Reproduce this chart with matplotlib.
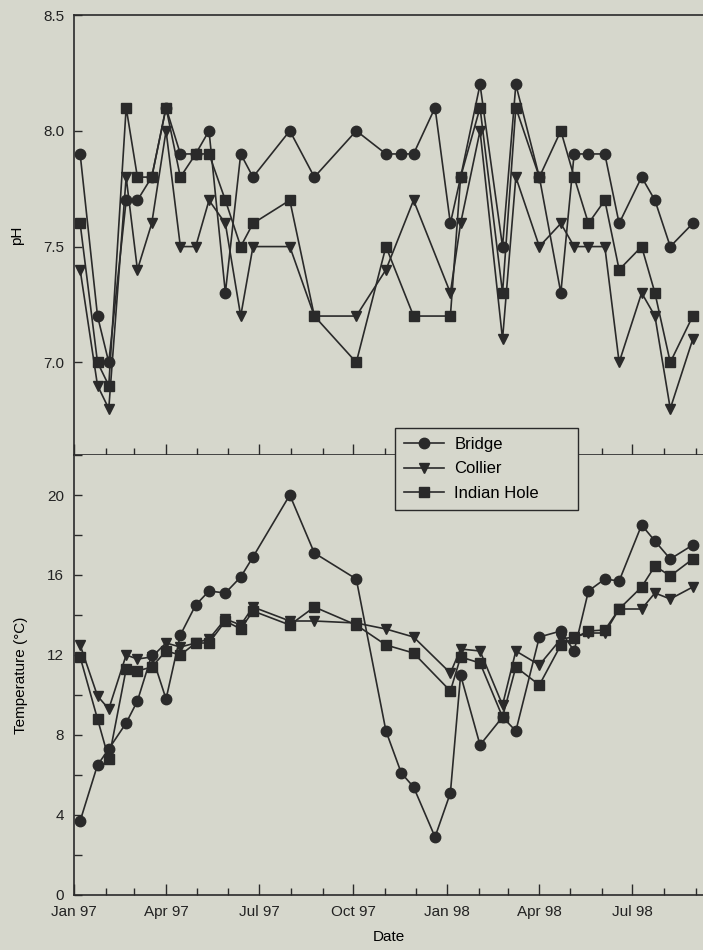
import numpy as np
import pandas as pd
import matplotlib
matplotlib.use("Agg")
import matplotlib.pyplot as plt
import matplotlib.dates as mdates

# sampling dates
dates = pd.to_datetime([
    "1997-01-07", "1997-01-24", "1997-02-04", "1997-02-21", "1997-03-04",
    "1997-03-18", "1997-04-01", "1997-04-15", "1997-04-30", "1997-05-13",
    "1997-05-29", "1997-06-13", "1997-06-25", "1997-07-31", "1997-08-24",
    "1997-10-04", "1997-11-02", "1997-11-17", "1997-11-29", "1997-12-20",
    "1998-01-04", "1998-01-14", "1998-02-02", "1998-02-24", "1998-03-09",
    "1998-04-01", "1998-04-22", "1998-05-05", "1998-05-19", "1998-06-04",
    "1998-06-18", "1998-07-10", "1998-07-23", "1998-08-07", "1998-08-29",
])

nan = np.nan
ph_bridge = [7.9, 7.2, 7.0, 7.7, 7.7, 7.8, 8.1, 7.9, 7.9, 8.0, 7.3, 7.9, 7.8, 8.0, 7.8,
             8.0, 7.9, 7.9, 7.9, 8.1, 7.6, 7.8, 8.2, 7.5, 8.2, 7.8, 7.3, 7.9, 7.9, 7.9,
             7.6, 7.8, 7.7, 7.5, 7.6]
ph_collier = [7.4, 6.9, 6.8, 7.8, 7.4, 7.6, 8.0, 7.5, 7.5, 7.7, 7.6, 7.2, 7.5, 7.5, 7.2,
              7.2, 7.4, nan, 7.7, nan, 7.3, 7.6, 8.0, 7.1, 7.8, 7.5, 7.6, 7.5, 7.5, 7.5,
              7.0, 7.3, 7.2, 6.8, 7.1]
ph_indian = [7.6, 7.0, 6.9, 8.1, 7.8, 7.8, 8.1, 7.8, 7.9, 7.9, 7.7, 7.5, 7.6, 7.7, 7.2,
             7.0, 7.5, nan, 7.2, nan, 7.2, 7.8, 8.1, 7.3, 8.1, 7.8, 8.0, 7.8, 7.6, 7.7,
             7.4, 7.5, 7.3, 7.0, 7.2]

temp_bridge = [3.7, 6.5, 7.3, 8.6, 9.7, 12.0, 9.8, 13.0, 14.5, 15.2, 15.1, 15.9, 16.9, 20.0, 17.1,
               15.8, 8.2, 6.1, 5.4, 2.9, 5.1, 11.0, 7.5, 8.9, 8.2, 12.9, 13.2, 12.2, 15.2, 15.8,
               15.7, 18.5, 17.7, 16.8, 17.5]
temp_collier = [12.5, 9.95, 9.3, 12.0, 11.8, 11.9, 12.6, 12.4, 12.6, 12.8, 13.8, 13.5, 14.4, 13.7, 13.7,
                13.6, 13.3, nan, 12.9, nan, 11.1, 12.3, 12.2, 9.5, 12.2, 11.5, 12.8, 12.9, 13.1, 13.1,
                14.3, 14.3, 15.1, 14.8, 15.4]
temp_indian = [11.9, 8.8, 6.8, 11.3, 11.2, 11.4, 12.2, 12.0, 12.6, 12.6, 13.7, 13.3, 14.2, 13.5, 14.4,
               13.5, 12.5, nan, 12.1, nan, 10.2, 11.9, 11.6, 8.9, 11.4, 10.5, 12.5, 12.85, 13.2, 13.25,
               14.3, 15.4, 16.45, 15.95, 16.8]

sites = ["Bridge", "Collier", "Indian Hole"]
markers = ["o", "v", "s"]

bg = "#d6d7cc"
ink = "#2a2a2a"

plt.rcParams["font.family"] = ["Liberation Sans", "DejaVu Sans"]
plt.rcParams["font.size"] = 11

fig = plt.figure(figsize=(7.03, 9.5), dpi=100, facecolor=bg)
ax1 = fig.add_axes([74 / 703, 1 - 455 / 950, 1 - 74 / 703, 440 / 950], facecolor=bg)
ax2 = fig.add_axes([74 / 703, 1 - 895 / 950, 1 - 74 / 703, 440 / 950], facecolor=bg)


def draw(ax, series):
    handles = []
    for name, vals, mk in zip(sites, series, markers):
        v = np.array(vals, dtype=float)
        ok = ~np.isnan(v)
        h, = ax.plot(dates[ok], v[ok], marker=mk, color=ink, lw=1.2, ms=7.5,
                     mec=ink, mfc=ink, label=name)
        handles.append(h)
    return handles


handles = draw(ax1, [ph_bridge, ph_collier, ph_indian])
draw(ax2, [temp_bridge, temp_collier, temp_indian])

xmin = pd.Timestamp("1997-01-01")
xmax = pd.Timestamp("1998-09-08")
for ax in (ax1, ax2):
    ax.set_xlim(xmin, xmax)
    ax.xaxis.set_major_locator(mdates.MonthLocator(bymonth=[1, 4, 7, 10]))
    ax.xaxis.set_minor_locator(mdates.MonthLocator())
    ax.xaxis.set_major_formatter(mdates.DateFormatter("%b %y"))
    ax.tick_params(which="major", direction="in", length=8, width=1, color=ink,
                   labelcolor="#222222", labelsize=11, pad=7)
    ax.tick_params(which="minor", direction="in", length=5, width=1, color=ink)
    ax.spines["right"].set_visible(False)
    for s in ("left", "bottom", "top"):
        ax.spines[s].set_color(ink)
        ax.spines[s].set_linewidth(1.2)

ax1.set_ylim(6.6, 8.5)
ax1.set_yticks([7.0, 7.5, 8.0, 8.5])
ax1.yaxis.set_major_formatter(plt.FormatStrFormatter("%.1f"))
ax1.tick_params(axis="x", labelbottom=False)
ax1.tick_params(axis="y", which="major", length=6)
ax1.set_ylabel("pH", labelpad=14)

ax2.set_ylim(0, 22)
ax2.set_yticks([0, 4, 8, 12, 16, 20])
ax2.set_yticks(np.arange(0, 23, 2), minor=True)
ax2.tick_params(axis="y", which="both", length=6)
ax2.spines["top"].set_visible(False)
ax2.set_ylabel("Temperature (\u00b0C)", labelpad=14)
ax2.set_xlabel("Date", labelpad=8)

leg = fig.legend(handles=handles, loc="upper left",
                 bbox_to_anchor=(395 / 703, 1 - 517 / 950, 183 / 703, 89 / 950),
                 mode="expand", borderaxespad=0, frameon=True,
                 fancybox=False, edgecolor=ink, facecolor=bg, framealpha=1,
                 handlelength=2.4, handletextpad=0.6, labelspacing=0.55,
                 borderpad=0.55, fontsize=12)
leg.get_frame().set_linewidth(1.0)
leg.set_zorder(10)

fig.savefig("out.png", dpi=100, facecolor=bg)
